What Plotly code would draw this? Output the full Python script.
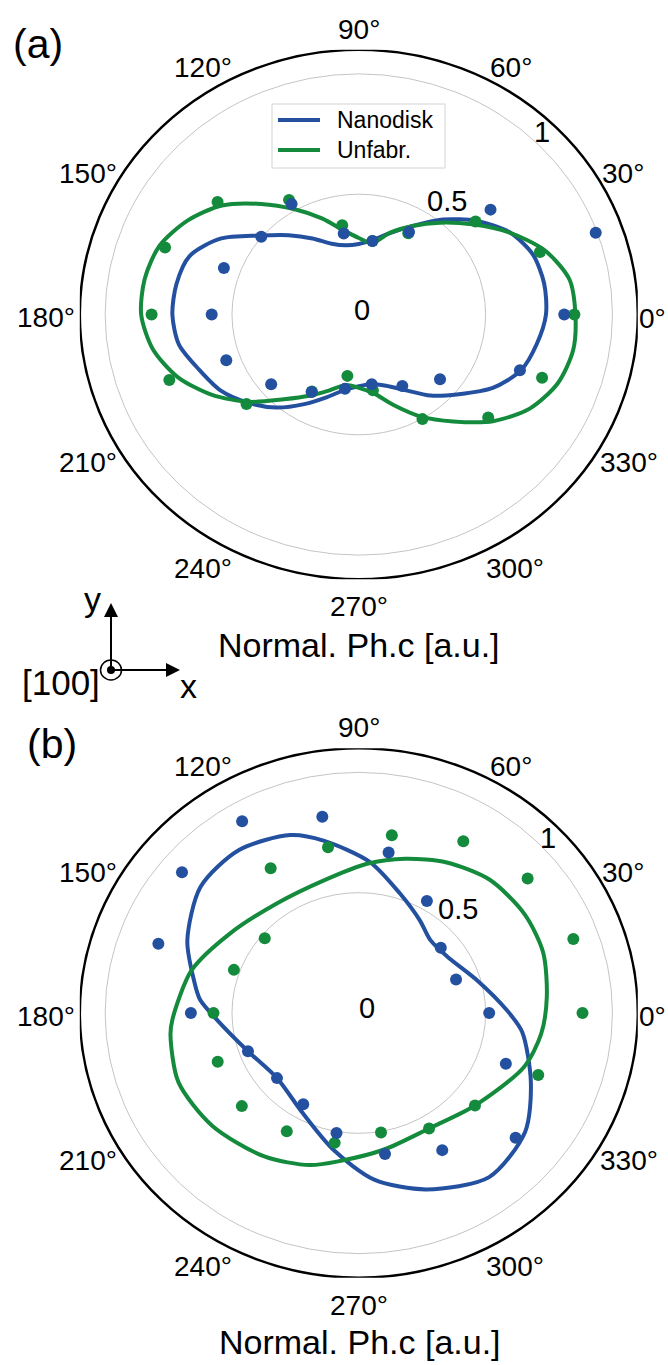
import numpy as np
import plotly.graph_objects as go

# ---------------- data ----------------
point_angles = [0, 20, 40, 60, 80, 100, 120, 140, 160, 180, 200, 220, 240, 260, 280, 300, 320, 340]

a_nano_pts = [0.81, 0.994, 0.678, 0.396, 0.31, 0.342, 0.53, 0.502, 0.566, 0.58,
              0.556, 0.451, 0.372, 0.313, 0.294, 0.343, 0.418, 0.676]
a_unfab_pts = [0.85, 0.76, 0.601, 0.39, 0.31, 0.377, 0.55, 0.727, 0.813, 0.817,
               0.795, 0.578, 0.37, 0.259, 0.32, 0.502, 0.666, 0.769]
b_nano_pts = [0.514, 0.408, 0.422, 0.537, 0.677, 0.828, 0.92, 0.91, 0.841, 0.662,
              0.465, 0.421, 0.438, 0.506, 0.595, 0.658, 0.807, 0.617]
b_unfab_pts = [0.882, 0.90, 0.869, 0.824, 0.75, 0.699, 0.695, 0.484, 0.524, 0.573,
               0.592, 0.602, 0.568, 0.548, 0.504, 0.554, 0.598, 0.753]

fit_angles_a = [0, 10, 20, 30, 40, 50, 60, 70, 80, 90, 100, 110, 120, 130, 140, 150, 160, 170,
                180, 190, 200, 210, 220, 230, 240, 250, 260, 270, 280, 290, 300, 310, 320, 330,
                340, 350, 360]
a_nano_fit_r = [0.738, 0.742, 0.73, 0.685, 0.605, 0.515, 0.425, 0.36, 0.315, 0.293, 0.292,
                0.313, 0.365, 0.43, 0.51, 0.63, 0.71, 0.73, 0.735, 0.72, 0.67, 0.63, 0.57,
                0.505, 0.43, 0.365, 0.318, 0.298, 0.293, 0.315, 0.362, 0.44, 0.515, 0.61,
                0.68, 0.712, 0.738]
a_unfab_fit_r = [0.854, 0.843, 0.78, 0.683, 0.583, 0.498, 0.425, 0.362, 0.302, 0.318, 0.356,
                 0.425, 0.505, 0.60, 0.705, 0.78, 0.836, 0.857, 0.858, 0.825, 0.76, 0.668,
                 0.565, 0.46, 0.39, 0.335, 0.298, 0.305, 0.332, 0.40, 0.49, 0.58, 0.69, 0.78,
                 0.835, 0.858, 0.854]

b_nano_fit_theta = [1, 16, 34, 47, 58, 72, 86, 101, 110, 125, 140, 156, 168, 175, 183, 200, 220,
                    242, 260, 275, 290, 307, 323, 337, 353, 361]
b_nano_fit_r = [0.585, 0.487, 0.420, 0.414, 0.454, 0.523, 0.629, 0.730, 0.787, 0.826, 0.815,
                0.740, 0.665, 0.628, 0.559, 0.465, 0.421, 0.471, 0.577, 0.695, 0.780, 0.854,
                0.821, 0.737, 0.649, 0.585]

b_unfab_fit_theta = [5, 19, 32, 47, 61, 74, 87, 104, 125, 147, 165, 182, 187, 202, 219, 238,
                     253, 263, 280, 300, 320, 341, 353, 365]
b_unfab_fit_r = [0.744, 0.769, 0.772, 0.757, 0.715, 0.667, 0.621, 0.568, 0.558, 0.606, 0.683,
                 0.735, 0.748, 0.767, 0.744, 0.703, 0.661, 0.620, 0.576, 0.554, 0.598, 0.689,
                 0.724, 0.744]

theta_ticks = [0, 30, 60, 90, 120, 150, 180, 210, 240, 270, 300, 330]
theta_tick_labels = [f"{t}°" for t in theta_ticks]
r_ticks = [0, 0.5, 1]
r_tick_labels = ["0", "0.5", "1"]
r_grid = [0.5, 1.0]
r_max = 1.1
series_names = ["Nanodisk", "Unfabr."]
panel_labels = ["(a)", "(b)"]
title_text = "Normal. Ph.c [a.u.]"

# ---------------- style / geometry ----------------
W, H = 668, 1365
BLUE = "#2450a0"
GREEN = "#148a3c"
FONT = "Liberation Sans, Arial, Helvetica, sans-serif"
CX = 358.8               # px, centre of both polar frames
RX, RY = 279.0, 264.7    # px radius of r_max (horizontal, vertical)
CYS = [314.5, 1013.0]    # px, vertical centres of panels


def px(x):
    return x / W


def py(y):
    return 1 - y / H


def to_xy(theta_deg, r):
    t = np.deg2rad(np.asarray(theta_deg, dtype=float))
    r = np.asarray(r, dtype=float)
    return r * np.cos(t), r * np.sin(t)


def polar_px(cy, r, theta_deg):
    t = np.deg2rad(theta_deg)
    return CX + r / r_max * RX * np.cos(t), cy - r / r_max * RY * np.sin(t)


def text(x, y, s, size, xanchor="center"):
    return dict(xref="paper", yref="paper", x=px(x), y=py(y), text=s, showarrow=False,
                xanchor=xanchor, yanchor="middle", borderpad=0,
                font=dict(size=size, color="black", family=FONT))


fig = go.Figure()

panels = [
    dict(nano_pts=a_nano_pts, unfab_pts=a_unfab_pts,
         nano_fit=(fit_angles_a, a_nano_fit_r), unfab_fit=(fit_angles_a, a_unfab_fit_r),
         rshift=[(2.7, -4.5), (-1.5, -28.4), (3.7, -12.4)]),
    dict(nano_pts=b_nano_pts, unfab_pts=b_unfab_pts,
         nano_fit=(b_nano_fit_theta, b_nano_fit_r), unfab_fit=(b_unfab_fit_theta, b_unfab_fit_r),
         rshift=[(7.7, -5.5), (9.5, -19.4), (9.4, -4.9)]),
]

shapes = []
annotations = []
LW = 4
MS = 12

for i, p in enumerate(panels):
    xa = "x" if i == 0 else "x2"
    ya = "y" if i == 0 else "y2"
    cy = CYS[i]
    # fitted curves
    xb, yb = to_xy(*p["nano_fit"])
    fig.add_trace(go.Scatter(x=xb, y=yb, mode="lines", name=series_names[0],
                             line=dict(color=BLUE, width=LW, shape="spline", smoothing=0.8),
                             showlegend=False, xaxis=xa, yaxis=ya))
    xg, yg = to_xy(*p["unfab_fit"])
    fig.add_trace(go.Scatter(x=xg, y=yg, mode="lines", name=series_names[1],
                             line=dict(color=GREEN, width=LW, shape="spline", smoothing=0.8),
                             showlegend=False, xaxis=xa, yaxis=ya))
    # measured points
    xgp, ygp = to_xy(point_angles, p["unfab_pts"])
    fig.add_trace(go.Scatter(x=xgp, y=ygp, mode="markers", name=series_names[1],
                             marker=dict(color=GREEN, size=MS, line=dict(width=0)),
                             showlegend=False, xaxis=xa, yaxis=ya))
    xbp, ybp = to_xy(point_angles, p["nano_pts"])
    fig.add_trace(go.Scatter(x=xbp, y=ybp, mode="markers", name=series_names[0],
                             marker=dict(color=BLUE, size=MS, line=dict(width=0)),
                             showlegend=False, xaxis=xa, yaxis=ya))

    # grid circles and frame
    for rg in r_grid:
        shapes.append(dict(type="circle", xref=xa, yref=ya, x0=-rg, x1=rg, y0=-rg, y1=rg,
                           line=dict(color="#c4c4c4", width=1), layer="below"))
    shapes.append(dict(type="circle", xref=xa, yref=ya, x0=-r_max, x1=r_max, y0=-r_max, y1=r_max,
                       line=dict(color="black", width=2.5), layer="above"))

    # angular tick labels (placed just outside the frame)
    fs = 28
    for t, lab in zip(theta_ticks, theta_tick_labels):
        c = np.cos(np.deg2rad(t))
        w = fs * (0.556 * len(str(t)) + 0.4)
        lx, ly = polar_px(cy, 1.2, t)
        lx += c * (w - 42) / 2
        lx = min(max(lx, w / 2 + 2), W - w / 2 - 2)
        annotations.append(text(lx, ly + 3.5, lab, fs))
    # radial tick labels
    for v, lab, (dx, dy) in zip(r_ticks, r_tick_labels, p["rshift"]):
        lx, ly = polar_px(cy, v, 45)
        annotations.append(text(lx + dx, ly + dy, lab, 29))

# legend (panel a), drawn as a framed box
leg_x0, leg_y0, leg_x1, leg_y1 = 272, 104, 445, 168
shapes.append(dict(type="rect", xref="paper", yref="paper", x0=px(leg_x0), x1=px(leg_x1),
                   y0=py(leg_y1), y1=py(leg_y0), line=dict(color="#d4d4d4", width=1),
                   fillcolor="rgba(255,255,255,0.85)", layer="above"))
for k, (name, col) in enumerate(zip(series_names, [BLUE, GREEN])):
    yy = 120 + 30 * k
    shapes.append(dict(type="line", xref="paper", yref="paper", x0=px(278), x1=px(320),
                       y0=py(yy), y1=py(yy), line=dict(color=col, width=LW), layer="above"))
    annotations.append(text(336, yy, name, 23, xanchor="left"))

# panel labels and titles
annotations.append(text(37.5, 43.5, panel_labels[0], 41))
annotations.append(text(52, 744.5, panel_labels[1], 41))
annotations.append(text(359, 645, title_text, 34))
annotations.append(text(360, 1342, title_text, 34))

# coordinate system glyph
ox, oy = 111.0, 670.0
annotations.append(dict(xref="paper", yref="paper", x=px(ox), y=py(603), ax=0, ay=oy - 603,
                        axref="pixel", ayref="pixel", text="", showarrow=True,
                        arrowhead=2, arrowsize=1.4, arrowwidth=2, arrowcolor="black", standoff=0))
annotations.append(dict(xref="paper", yref="paper", x=px(180), y=py(oy), ax=-(180 - ox), ay=0,
                        axref="pixel", ayref="pixel", text="", showarrow=True,
                        arrowhead=2, arrowsize=1.4, arrowwidth=2, arrowcolor="black", standoff=0))
shapes.append(dict(type="circle", xref="paper", yref="paper", x0=px(ox - 10.5), x1=px(ox + 10.5),
                   y0=py(oy + 10), y1=py(oy - 10), line=dict(color="black", width=1.5)))
shapes.append(dict(type="circle", xref="paper", yref="paper", x0=px(ox - 4), x1=px(ox + 4),
                   y0=py(oy + 4), y1=py(oy - 4), line=dict(color="black", width=0),
                   fillcolor="black"))
annotations.append(text(93, 599, "y", 34))
annotations.append(text(188, 686, "x", 34))
annotations.append(text(60.5, 682.5, "[100]", 35))

xdom = [(CX - RX) / W, (CX + RX) / W]
axis_common = dict(range=[-r_max, r_max], visible=False, fixedrange=True, showgrid=False,
                   zeroline=False)

fig.update_layout(
    width=W, height=H,
    margin=dict(l=0, r=0, t=0, b=0),
    paper_bgcolor="white", plot_bgcolor="rgba(0,0,0,0)",
    font=dict(family=FONT, color="black"),
    xaxis=dict(domain=xdom, **axis_common),
    yaxis=dict(domain=[py(CYS[0] + RY), py(CYS[0] - RY)], **axis_common),
    xaxis2=dict(domain=xdom, **axis_common),
    yaxis2=dict(domain=[py(CYS[1] + RY), py(CYS[1] - RY)], **axis_common),
    shapes=shapes,
    annotations=annotations,
    showlegend=False,
)

# remove the default page margin so the 668x1365 figure fills the window exactly
fig.write_html(
    "out.html",
    config={"displayModeBar": False},
    post_script="document.body.style.margin='0px';"
                "document.documentElement.style.margin='0px';"
                "document.body.style.overflow='hidden';",
)
